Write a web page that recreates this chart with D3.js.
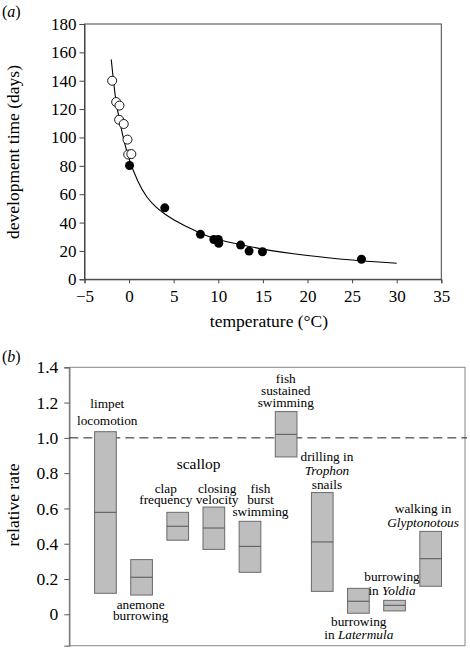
<!DOCTYPE html>
<html><head><meta charset="utf-8">
<script src="https://cdn.jsdelivr.net/npm/d3@7"></script>
<style>body{margin:0;background:#fff}svg{display:block}text{font-family:"Liberation Serif","Times New Roman",serif;fill:#000}</style>
</head><body>
<script>
// ---- Panel (a) data ----
const openTemp = [-1.9, -1.45, -1.08, -1.12, -0.6, -0.18, -0.1, 0.25];
const openDays = [140, 125, 122.5, 112.5, 109.5, 98.5, 88, 88.3];
const fillTemp = [0.05, 4.0, 8.0, 9.5, 10.0, 10.05, 12.5, 13.45, 14.95, 26.05];
const fillDays = [80.2, 50.4, 31.7, 28.1, 28.1, 25.4, 24.1, 19.9, 19.4, 14.1];
const curveTemp = [-2, -1.5, -1, -0.5, 0, 1, 2, 3, 4, 5, 6.5, 8, 10, 12.5, 15, 20, 25, 30];
const curveDays = [155, 127, 110, 96, 85, 69, 58, 51, 46, 42, 37, 32.5, 28, 24.5, 21.3, 16.8, 13.6, 11.3];
const xTicksA = [-5, 0, 5, 10, 15, 20, 25, 30, 35];
const yTicksA = [0, 20, 40, 60, 80, 100, 120, 140, 160, 180];

// ---- Panel (b) data ----
const activities = ["limpet locomotion","anemone burrowing","scallop clap frequency","scallop closing velocity","fish burst swimming","fish sustained swimming","drilling in Trophon snails","burrowing in Latermula","burrowing in Yoldia","walking in Glyptonotous"];
const rateLow = [0.119, 0.109, 0.42, 0.368, 0.238, 0.892, 0.13, 0.006, 0.019, 0.159];
const rateMid = [0.578, 0.21, 0.499, 0.489, 0.385, 1.02, 0.41, 0.074, 0.051, 0.315];
const rateHigh = [1.035, 0.31, 0.578, 0.608, 0.527, 1.149, 0.69, 0.147, 0.079, 0.47];
const yTicksB = [0, 0.2, 0.4, 0.6, 0.8, 1.0, 1.2, 1.4];
const yTickLabelsB = ["0", "0.2", "0.4", "0.6", "0.8", "1.0", "1.2", "1.4"];
// labels: category position, then lines [baseline value, parts [text, italic]]
const labels = [
  [1.05, [[1.168, [["limpet", 0]]], [1.073, [["locomotion", 0]]]]],
  [1.975, [[0.032, [["anemone", 0]]], [-0.032, [["burrowing", 0]]]]],
  [2.67, [[0.689, [["clap", 0]]], [0.625, [["frequency", 0]]]]],
  [4.09, [[0.689, [["closing", 0]]], [0.625, [["velocity", 0]]]]],
  [5.29, [[0.689, [["fish", 0]]], [0.625, [["burst", 0]]], [0.557, [["swimming", 0]]]]],
  [5.99, [[1.31, [["fish", 0]]], [1.241, [["sustained", 0]]], [1.173, [["swimming", 0]]]]],
  [7.13, [[0.869, [["drilling in", 0]]], [0.788, [["Trophon", 1]]], [0.712, [["snails", 0]]]]],
  [8.01, [[-0.066, [["burrowing", 0]]], [-0.142, [["in ", 0], ["Latermula", 1]]]]],
  [8.93, [[0.189, [["burrowing", 0]]], [0.109, [["in ", 0], ["Yoldia", 1]]]]],
  [9.79, [[0.573, [["walking in", 0]]], [0.493, [["Glyptonotous", 1]]]]]
];
const scallopLabel = ["scallop", 3.58, 0.824];

const W = 470, H = 648;
const FONT = "Liberation Serif, Times New Roman, serif";
const svg = d3.select("body").append("svg").attr("width", W).attr("height", H);

// ===== Panel (a) =====
const xA = d3.scaleLinear().domain([-5, 35]).range([84.5, 441.3]);
const yA = d3.scaleLinear().domain([0, 180]).range([279.3, 24]);
const gA = svg.append("g");
gA.append("rect").attr("x", xA(-5)).attr("y", yA(180)).attr("width", xA(35) - xA(-5)).attr("height", yA(0) - yA(180))
  .attr("fill", "none").attr("stroke", "#444").attr("stroke-width", 1);
const axA = gA.append("g").attr("transform", `translate(0,${yA(0)})`)
  .call(d3.axisBottom(xA).tickValues(xTicksA).tickSize(4).tickPadding(3).tickFormat(d => d < 0 ? "\u2212" + Math.abs(d) : d));
const ayA = gA.append("g").attr("transform", `translate(${xA(-5)},0)`)
  .call(d3.axisLeft(yA).tickValues(yTicksA).tickSize(5).tickPadding(3));
[axA, ayA].forEach(a => {
  a.attr("font-family", FONT).attr("font-size", 17);
  a.select(".domain").attr("stroke", "#444");
  a.selectAll(".tick line").attr("stroke", "#444");
  a.selectAll(".tick text").style("font-size", "17px").style("font-family", FONT);
});
axA.selectAll(".tick text").attr("dy", "0.95em");
const curveData = curveTemp.map((t, i) => [t, curveDays[i]]);
gA.append("path").datum(curveData)
  .attr("d", d3.line().x(d => xA(d[0])).y(d => yA(d[1])).curve(d3.curveMonotoneX))
  .attr("fill", "none").attr("stroke", "#000").attr("stroke-width", 1.1);
gA.selectAll("circle.open").data(openTemp.map((t, i) => [t, openDays[i]])).join("circle")
  .attr("class", "open").attr("cx", d => xA(d[0])).attr("cy", d => yA(d[1])).attr("r", 4.5)
  .attr("fill", "#fff").attr("stroke", "#000").attr("stroke-width", 0.9);
gA.selectAll("circle.fill").data(fillTemp.map((t, i) => [t, fillDays[i]])).join("circle")
  .attr("class", "fill").attr("cx", d => xA(d[0])).attr("cy", d => yA(d[1])).attr("r", 4.5)
  .attr("fill", "#000");
gA.append("text").attr("x", 269).attr("y", 327).attr("text-anchor", "middle").style("font-size", "17.5px")
  .text("temperature (\u00B0C)");
gA.append("text").attr("transform", "translate(19,152) rotate(-90)").attr("text-anchor", "middle").style("font-size", "17.5px")
  .text("development time (days)");
const la = gA.append("text").attr("x", 2).attr("y", 17).style("font-size", "16px");
la.append("tspan").text("(");
la.append("tspan").style("font-style", "italic").text("a");
la.append("tspan").text(")");

// ===== Panel (b) =====
const xB = d3.scaleLinear().domain([0, 10.95]).range([69.3, 465]);
const yB = d3.scaleLinear().domain([-0.178, 1.4]).range([645.7, 367.3]);
const gB = svg.append("g");
gB.append("rect").attr("x", xB(0)).attr("y", yB(1.4)).attr("width", xB(10.95) - xB(0)).attr("height", yB(-0.178) - yB(1.4))
  .attr("fill", "none").attr("stroke", "#888").attr("stroke-width", 1);
const ayB = gB.append("g").attr("transform", `translate(${xB(0)},0)`)
  .call(d3.axisLeft(yB).tickValues(yTicksB).tickSize(5).tickPadding(6).tickFormat((d, i) => yTickLabelsB[i]));
ayB.attr("font-family", FONT).attr("font-size", 17.5);
ayB.select(".domain").attr("stroke", "#777").attr("stroke-width", 1.3);
ayB.selectAll(".tick line").attr("stroke", "#555");
ayB.selectAll(".tick text").style("font-size", "17.5px").style("font-family", FONT);
gB.append("line").attr("x1", xB(0)).attr("x2", 467).attr("y1", yB(1.0)).attr("y2", yB(1.0))
  .attr("stroke", "#222").attr("stroke-width", 1).attr("stroke-dasharray", "9,5");
const bw = 0.6;
const boxes = gB.selectAll("g.box").data(activities).join("g").attr("class", "box");
boxes.append("rect")
  .attr("x", (d, i) => xB(i + 1 - bw / 2)).attr("width", (d, i) => xB(i + 1 + bw / 2) - xB(i + 1 - bw / 2))
  .attr("y", (d, i) => yB(rateHigh[i])).attr("height", (d, i) => yB(rateLow[i]) - yB(rateHigh[i]))
  .attr("fill", "#bebebe").attr("stroke", "#6a6a6a").attr("stroke-width", 1);
boxes.append("line")
  .attr("x1", (d, i) => xB(i + 1 - bw / 2)).attr("x2", (d, i) => xB(i + 1 + bw / 2))
  .attr("y1", (d, i) => yB(rateMid[i])).attr("y2", (d, i) => yB(rateMid[i]))
  .attr("stroke", "#555").attr("stroke-width", 1);
labels.forEach(([p, lines]) => {
  const t = gB.append("text").attr("text-anchor", "middle").style("font-size", "13.3px");
  lines.forEach(([v, parts]) => {
    const ln = t.append("tspan").attr("x", xB(p)).attr("y", yB(v));
    parts.forEach(([s, it]) => ln.append("tspan").style("font-style", it ? "italic" : "normal").text(s));
  });
});
gB.append("text").attr("x", xB(scallopLabel[1])).attr("y", yB(scallopLabel[2])).attr("text-anchor", "middle")
  .style("font-size", "15.5px").text(scallopLabel[0]);
gB.append("text").attr("transform", "translate(19,505) rotate(-90)").attr("text-anchor", "middle").style("font-size", "17.5px")
  .text("relative rate");
const lb = gB.append("text").attr("x", 2).attr("y", 362).style("font-size", "16px");
lb.append("tspan").text("(");
lb.append("tspan").style("font-style", "italic").text("b");
lb.append("tspan").text(")");
</script>
</body></html>
